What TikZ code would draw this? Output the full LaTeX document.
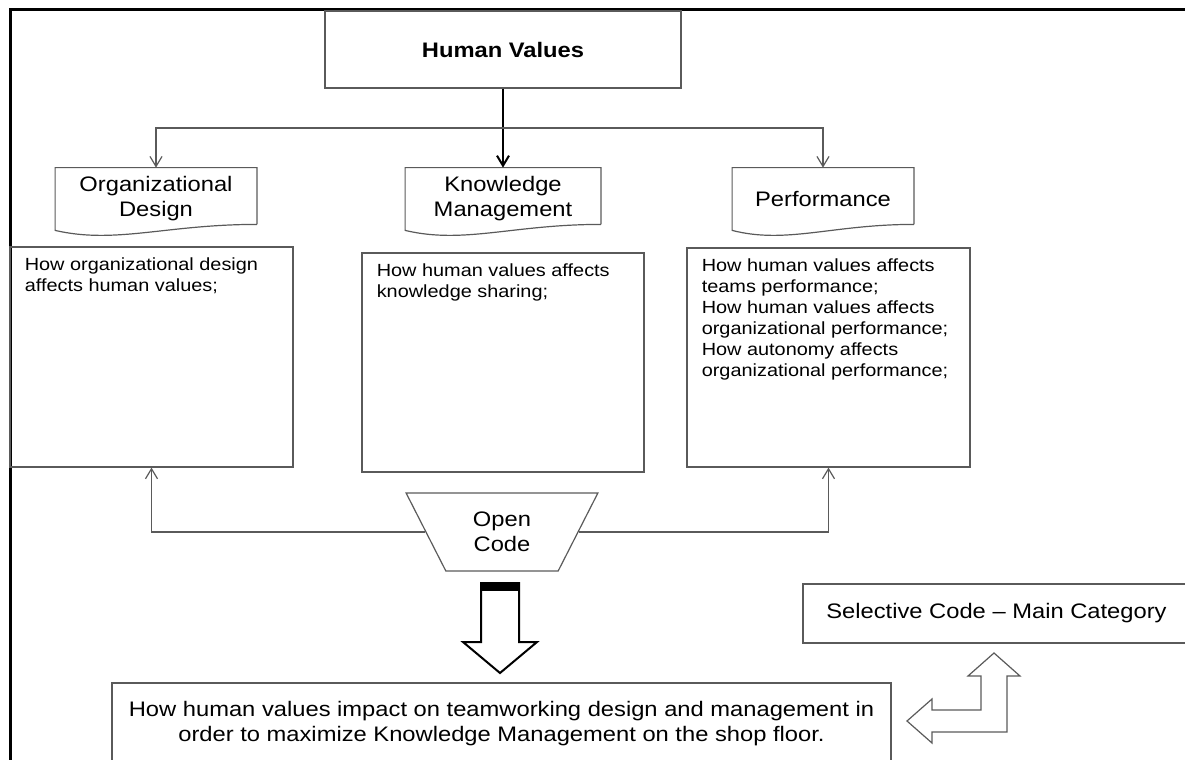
\documentclass[tikz,border=0pt]{standalone}
\usepackage{fontspec}
\setmainfont[FakeStretch=1.13]{Liberation Sans}
\usepackage{tikz}
\usetikzlibrary{arrows.meta,shapes.geometric,calc,positioning}
\definecolor{edge}{HTML}{5A5A5A}
\newcommand\mainfs{\fontsize{10.5}{12.5}\selectfont}
\newcommand\boxfs{\fontsize{8.8}{10.5}\selectfont}
\tikzset{
  plain/.style={draw=edge,line width=0.6pt},
  gline/.style={edge,line width=0.6pt},
  docbox/.style={align=center,font=\mainfs,minimum height=31pt,inner sep=0pt},
  txtbox/.style={plain,minimum width=141.5pt,minimum height=110pt,inner sep=0pt},
  txt/.style={anchor=north west,align=left,font=\boxfs,inner sep=0pt}
}

\begin{document}
\begin{tikzpicture}[x=0.5pt,y=-0.5pt,>={Straight Barb[length=5pt,width=6pt]}]
\useasboundingbox (0,0) rectangle (1185,760);
\clip (0,0) rectangle (1185,760);
% frame
\draw[line width=1.5pt] (10,760)--(10,9)--(1185,9);
%
% top box and the three documents
\node[plain,minimum width=178pt,minimum height=38.5pt,font=\bfseries\mainfs] (hv) at (503,49.5) {Human Values};
\node[docbox,minimum width=100.5pt] (od) at (156,199) {Organizational\\Design};
\node[docbox,minimum width=97.5pt] (km) at (503,199) {Knowledge\\Management};
\node[docbox,minimum width=90.5pt] (pf) at (823,199) {Performance};
\foreach \n in {od,km,pf}
\draw[plain] ([yshift=3pt]\n.south east)--(\n.north east)--(\n.north west)--(\n.south west)
  .. controls ($(\n.south west)!0.3!(\n.south east)+(0,14)$) and ($(\n.south west)!0.55!(\n.south east)+(0,-6)$) .. ([yshift=3pt]\n.south east);
%
\draw[line width=1pt,->] (hv)--(km);
\coordinate (br) at (503,128);
\draw[gline,->] (br) -| (od);
\draw[gline,->] (br) -| (pf);
%
% text boxes
\node[txtbox] (odtxt) at (151.5,357) {};
\node[txtbox,minimum width=141pt,minimum height=109.5pt] (kmtxt) at (503,362.5) {};
\node[txtbox,minimum height=109.5pt] (pftxt) at (828.5,357.5) {};
\node[txt] (odq) at ([shift={(15,11)}]odtxt.north west) {How organizational design\\affects human values;};
\node[txt] (kmq) at ([shift={(15,11)}]kmtxt.north west) {How human values affects\\knowledge sharing;};
\node[txt] (pfq) at ([shift={(15,11)}]pftxt.north west) {How human values affects\\teams performance;\\How human values affects\\organizational performance;\\How autonomy affects\\organizational performance;};
%
% open code
\node[trapezium,plain,trapezium angle=64.6,shape border rotate=180,trapezium stretches=true,
  minimum width=96pt,minimum height=39pt,align=center,font=\mainfs] (oc) at (502,532) {Open\\Code};
\draw[gline,->] (oc) -| (odtxt);
\draw[gline,->] (oc) -| (pftxt);
%
% big arrow
\draw[line width=1pt,fill=white] (481,583)--(481,642)--(463,642)--(500,673)--(537,642)--(519,642)--(519,583)--cycle;
\fill (481,583) rectangle (519,591);
%
\node[plain,minimum width=389.5pt,minimum height=40.5pt,align=center,font=\mainfs] (res) at (501.5,723.5)
  {How human values impact on teamworking design and management in\\order to maximize Knowledge Management on the shop floor.};
\node[plain,minimum width=193.5pt,minimum height=29.5pt,font=\mainfs] (sel) at (996.5,613.5) {Selective Code -- Main Category};
%
% bent arrow
\draw[gline] (907,721)--(932,699)--(932,710)--(981,710)--(981,676)--(968,676)--(994,653)--(1020,676)--(1007,676)
  --(1007,732)--(932,732)--(932,743)--cycle;
\end{tikzpicture}
\end{document}
